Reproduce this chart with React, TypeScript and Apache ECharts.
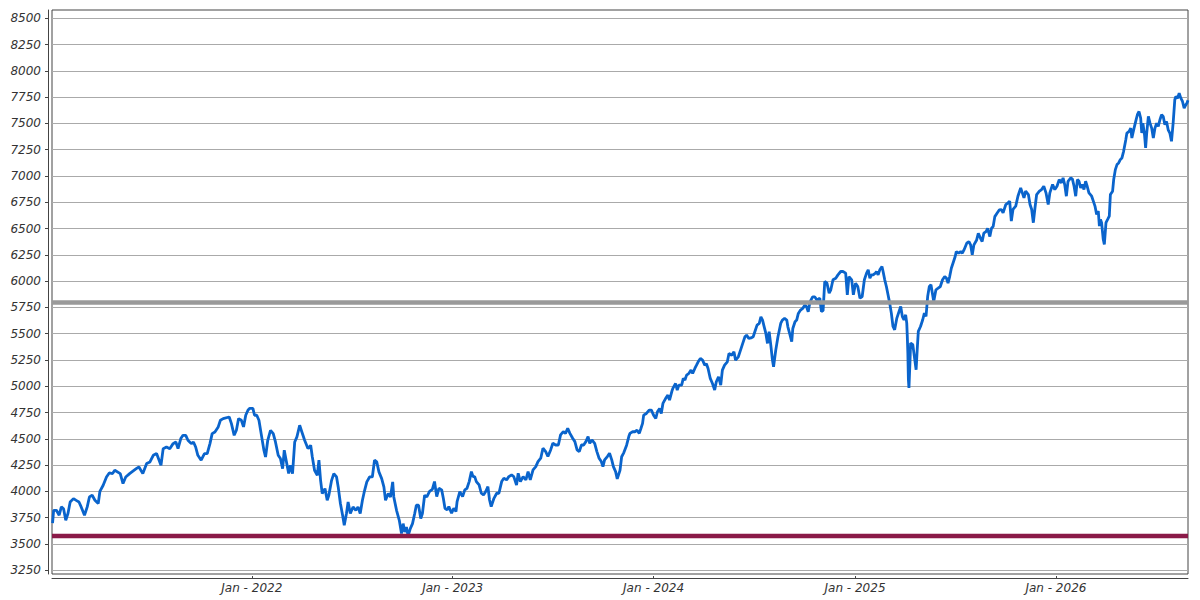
import React, { useEffect, useRef } from "react";
import * as echarts from "echarts";

// Day offsets from 2021-01-03 (left edge of the x axis)
const dayOffsets = [
  1, 3, 8, 13, 17, 21, 25, 29, 33, 39, 44, 49, 53, 59, 64, 68, 73, 78, 84, 87, 93, 99, 104, 110, 114, 124, 129, 134, 141, 153, 158, 165, 172, 178, 184, 190, 198, 202, 208, 214, 220, 225, 229, 234, 238, 243, 247, 253, 257, 261, 265, 271, 277, 282, 287, 291, 296, 302, 306, 311, 322, 326, 331, 335, 339, 344, 348, 352, 356, 359,
  365, 368, 372, 376, 380, 385, 388, 392, 397, 402, 406, 411, 415, 419, 422, 426, 430, 433, 437, 441, 445, 450, 454, 459, 465, 470, 473, 477, 482, 485, 488, 491, 496, 500, 503, 508, 512, 517, 520, 524, 528, 531, 535, 538, 542, 547, 552, 556, 560, 564, 568, 572, 577, 582, 586, 590, 594, 599, 603, 606, 611, 615, 619, 621, 626, 631, 635, 638, 641, 644, 647, 651, 655, 659, 662, 666, 670, 673, 677, 681, 686,
  691, 695, 699, 703, 708, 711, 714, 718, 721, 726, 730, 734, 736, 741, 746, 750, 754, 758, 762, 765, 768, 771, 776, 780, 784, 788, 792, 795, 798, 803, 808, 812, 817, 821, 826, 830, 835, 839, 844, 847, 851, 856, 861, 865, 869, 874, 879, 883, 888, 892, 897, 901, 906, 910, 915, 920, 924, 929, 933, 937, 941, 946, 950, 954, 958, 962, 966, 970, 974, 977, 981, 986, 990, 994, 998, 1001, 1004, 1009, 1013, 1017, 1020, 1024, 1027, 1032, 1035, 1039, 1044, 1048,
  1050, 1055, 1059, 1063, 1067, 1070, 1073, 1075, 1080, 1085, 1089, 1093, 1097, 1100, 1104, 1107, 1110, 1115, 1119, 1122, 1126, 1128, 1133, 1136, 1139, 1144, 1147, 1150, 1153, 1157, 1161, 1164, 1168, 1171, 1174, 1178, 1182, 1186, 1189, 1192, 1196, 1200, 1204, 1207, 1211, 1215, 1218, 1222, 1227, 1230, 1235, 1239, 1242, 1247, 1251, 1255, 1259, 1262, 1266, 1270, 1274, 1277, 1281, 1285, 1288, 1291, 1294, 1297, 1300, 1303, 1306, 1309, 1311, 1315, 1319, 1324, 1327, 1331, 1335, 1337, 1341, 1344, 1346, 1350, 1353, 1356, 1360, 1364, 1368, 1371, 1374, 1377, 1382, 1386, 1390, 1395,
  1398, 1401, 1404, 1408, 1412, 1415, 1419, 1424, 1428, 1433, 1437, 1442, 1445, 1448, 1453, 1456, 1460, 1464, 1468, 1472, 1476, 1480, 1483, 1486, 1489, 1492, 1496, 1498, 1501, 1504, 1508, 1510, 1513, 1516, 1519, 1522, 1525, 1528, 1531, 1535, 1539, 1542, 1545, 1548, 1551, 1553, 1554, 1555, 1556, 1557, 1559, 1560, 1564, 1566, 1570, 1572, 1574, 1578, 1582, 1585, 1588, 1591, 1594, 1597, 1600, 1602, 1606, 1610, 1614, 1618, 1622, 1625, 1628, 1631, 1634, 1637, 1641, 1643, 1647, 1651, 1654, 1657, 1662, 1666, 1669, 1672, 1675, 1680, 1683, 1687, 1690, 1693, 1697, 1700, 1704, 1707, 1710, 1713, 1717, 1721, 1725, 1728, 1733, 1737, 1740,
  1743, 1746, 1751, 1755, 1760, 1763, 1766, 1769, 1774, 1777, 1780, 1783, 1786, 1789, 1794, 1798, 1802, 1806, 1810, 1813, 1818, 1822, 1826, 1830, 1834, 1837, 1840, 1843, 1846, 1851, 1854, 1857, 1860, 1863, 1866, 1869, 1872, 1875, 1878, 1881, 1884, 1889, 1892, 1895, 1898, 1901, 1903, 1905, 1907, 1910, 1912, 1915, 1918, 1921, 1923, 1927, 1929, 1932, 1935, 1938, 1941, 1944, 1947, 1951, 1953, 1957, 1960, 1962, 1966, 1969, 1972, 1975, 1978, 1980, 1982, 1985, 1987, 1989, 1992, 1995, 1998, 2001, 2004, 2007, 2010, 2013, 2016, 2019, 2022, 2025, 2028, 2031, 2034, 2037, 2040, 2042, 2045, 2048, 2051, 2054, 2057, 2060, 2062, 2064,
];

const closeValues = [
  3700, 3821, 3821, 3774, 3853, 3835, 3726, 3790, 3900, 3932, 3915, 3900, 3853, 3774, 3853, 3948, 3964, 3916, 3885, 4000, 4059, 4138, 4176, 4170, 4202, 4170, 4075, 4138, 4170, 4217, 4233, 4170, 4265, 4281, 4344, 4360, 4249, 4407, 4423, 4407, 4455, 4470, 4407, 4503, 4534, 4534, 4487, 4455, 4470, 4423, 4344, 4297, 4360, 4360, 4455, 4550, 4566, 4614, 4677, 4693, 4708, 4645, 4534, 4582, 4693, 4677, 4614, 4725, 4772, 4790,
  4790, 4725, 4725, 4677, 4550, 4392, 4328, 4487, 4582, 4550, 4471, 4344, 4313, 4217, 4392, 4281, 4170, 4249, 4170, 4471, 4519, 4630, 4566, 4487, 4408, 4439, 4328, 4202, 4154, 4297, 4106, 3980, 4027, 3916, 3964, 4106, 4170, 4138, 4043, 3885, 3774, 3679, 3790, 3900, 3790, 3853, 3821, 3853, 3790, 3916, 4011, 4091, 4138, 4138, 4297, 4281, 4186, 4122, 4043, 3916, 3980, 3948, 4091, 3948, 3821, 3726, 3599, 3694, 3615, 3663, 3577, 3647, 3694, 3790, 3869, 3869, 3742, 3790, 3964, 3948, 4000,
  4020, 4094, 3951, 4030, 4015, 3935, 3840, 3824, 3856, 3793, 3840, 3809, 3904, 3999, 3951, 4015, 4030, 4094, 4189, 4141, 4141, 4094, 4062, 3983, 3967, 3999, 4046, 3919, 3856, 3935, 3983, 3983, 4094, 4125, 4110, 4141, 4157, 4141, 4062, 4173, 4094, 4141, 4110, 4189, 4110, 4205, 4236, 4284, 4316, 4411, 4379, 4332, 4395, 4458, 4442, 4442, 4538, 4569, 4553, 4601, 4553, 4506, 4474, 4395, 4379, 4442, 4442, 4474, 4522, 4458, 4490, 4458, 4379, 4316, 4284, 4236, 4300, 4332, 4363, 4300, 4236, 4189, 4120, 4200, 4330, 4370, 4440, 4522,
  4552, 4568, 4568, 4583, 4552, 4599, 4647, 4726, 4742, 4774, 4774, 4726, 4694, 4758, 4790, 4742, 4837, 4885, 4916, 4869, 4948, 4980, 5027, 4964, 5011, 5011, 5075, 5060, 5106, 5122, 5154, 5122, 5170, 5201, 5233, 5265, 5249, 5201, 5215, 5170, 5075, 5027, 4964, 5043, 5091, 5011, 5154, 5201, 5233, 5312, 5296, 5328, 5249, 5281, 5344, 5408, 5471, 5487, 5455, 5460, 5471, 5519, 5582, 5598, 5661, 5630, 5566, 5503, 5408, 5519, 5392, 5249, 5186, 5344, 5471, 5598, 5630, 5646, 5630, 5566, 5487, 5424, 5550, 5614, 5630, 5693, 5725, 5741, 5772, 5756, 5709, 5800, 5851, 5850, 5820, 5838,
  5712, 5720, 5997, 5981, 5886, 5918, 6013, 6028, 6060, 6092, 6092, 6076, 5870, 6044, 6013, 5870, 5981, 5949, 5838, 5854, 6013, 6076, 6108, 6028, 6060, 6060, 6076, 6092, 6060, 6108, 6139, 6092, 6013, 5949, 5870, 5791, 5696, 5569, 5538, 5649, 5712, 5759, 5664, 5633, 5680, 5601, 5475, 5316, 5063, 4984, 5253, 5411, 5396, 5316, 5158, 5348, 5522, 5569, 5633, 5696, 5664, 5854, 5949, 5965, 5870, 5807, 5918, 5933, 5949, 6013, 6044, 6030, 5981, 6044, 6123, 6171, 6234, 6282, 6266, 6282, 6266, 6297, 6361, 6377, 6345, 6250, 6345, 6392, 6456, 6408, 6377, 6456, 6471, 6503, 6424, 6503, 6519, 6614, 6646, 6677, 6680, 6650, 6729, 6745, 6761,
  6571, 6682, 6714, 6808, 6887, 6840, 6792, 6856, 6824, 6729, 6682, 6556, 6698, 6824, 6856, 6871, 6903, 6840, 6729, 6840, 6919, 6871, 6903, 6966, 6935, 6982, 6919, 6808, 6950, 6982, 6970, 6903, 6808, 6966, 6950, 6887, 6919, 6871, 6950, 6900, 6840, 6808, 6761, 6714, 6635, 6666, 6524, 6587, 6556, 6398, 6350, 6556, 6587, 6619, 6824, 6856, 6966, 7061, 7109, 7124, 7156, 7172, 7235, 7346, 7409, 7425, 7456, 7361, 7456, 7519, 7583, 7614, 7551, 7409, 7503, 7393, 7267, 7409, 7567, 7503, 7456, 7361, 7456, 7503, 7472, 7535, 7583, 7567, 7488, 7519, 7440, 7409, 7330, 7503, 7725, 7756, 7740, 7788, 7740, 7709, 7646, 7677, 7693, 7720,
];

const axisStartDay = 0;
const axisEndDay = 2064;
const yearTicks = [2022, 2023, 2024, 2025, 2026];
const yTickValues = [3250, 3500, 3750, 4000, 4250, 4500, 4750, 5000, 5250, 5500, 5750, 6000, 6250, 6500, 6750, 7000, 7250, 7500, 7750, 8000, 8250, 8500];
const yAxisMin = 3215;
const yAxisMax = 8579;
const yAxisStep = 250;
const resistanceLevel = 5800;
const supportLevel = 3577;

const dayToTime = (d: number) => new Date(2021, 0, 3 + d).getTime();

const labelFont = {
  fontFamily: "DejaVu Sans",
  fontStyle: "italic" as const,
  fontSize: 12,
  color: "#333333",
};

export default function App() {
  const ref = useRef<HTMLDivElement>(null);

  useEffect(() => {
    if (!ref.current) return;
    const chart = echarts.init(ref.current, null, { renderer: "svg" });
    const seriesData = dayOffsets.map((d, i) => [dayToTime(d), closeValues[i]]);
    const yearTimes = yearTicks.map((y) => new Date(y, 0, 1).getTime());

    chart.setOption({
      animation: false,
      backgroundColor: "#ffffff",
      grid: {
        left: 52,
        right: 12,
        top: 10,
        bottom: 26,
        show: true,
        borderColor: "#444444",
        borderWidth: 1,
        backgroundColor: "transparent",
        containLabel: false,
      },
      xAxis: {
        type: "value",
        min: dayToTime(axisStartDay),
        max: dayToTime(axisEndDay),
        offset: 4,
        axisLine: { show: true, lineStyle: { color: "#444444", width: 1 } },
        axisTick: {
          show: true,
          customValues: yearTimes,
          length: 2,
          inside: true,
          lineStyle: { color: "#444444" },
        },
        splitLine: { show: false },
        axisLabel: {
          ...labelFont,
          customValues: yearTimes,
          margin: 4,
          formatter: (v: number) => "Jan - " + new Date(v).getFullYear(),
        },
      },
      yAxis: {
        type: "value",
        min: yAxisMin,
        max: yAxisMax,
        interval: yAxisStep,
        offset: 4,
        axisLine: { show: true, lineStyle: { color: "#444444", width: 1 } },
        axisTick: {
          show: true,
          customValues: yTickValues,
          length: 3,
          lineStyle: { color: "#444444" },
        },
        axisLabel: {
          ...labelFont,
          customValues: yTickValues,
          margin: 7,
          formatter: (v: number) => String(v),
        },
        splitLine: { show: true, lineStyle: { color: "#aaaaaa", width: 1 } },
      },
      series: [
        {
          type: "line",
          data: seriesData,
          symbol: "none",
          showSymbol: false,
          silent: true,
          lineStyle: { color: "#0a64cc", width: 2.8 },
          markLine: {
            silent: true,
            symbol: ["none", "none"],
            label: { show: false },
            data: [
              { yAxis: resistanceLevel, lineStyle: { color: "#9a9a9a", width: 4.5, type: "solid" } },
              { yAxis: supportLevel, lineStyle: { color: "#8a1a48", width: 4.3, type: "solid" } },
            ],
          },
        },
      ],
    });

    return () => chart.dispose();
  }, []);

  return (
    <div
      ref={ref}
      style={{ position: "fixed", left: 0, top: 0, width: 1200, height: 600, background: "#ffffff" }}
    />
  );
}
